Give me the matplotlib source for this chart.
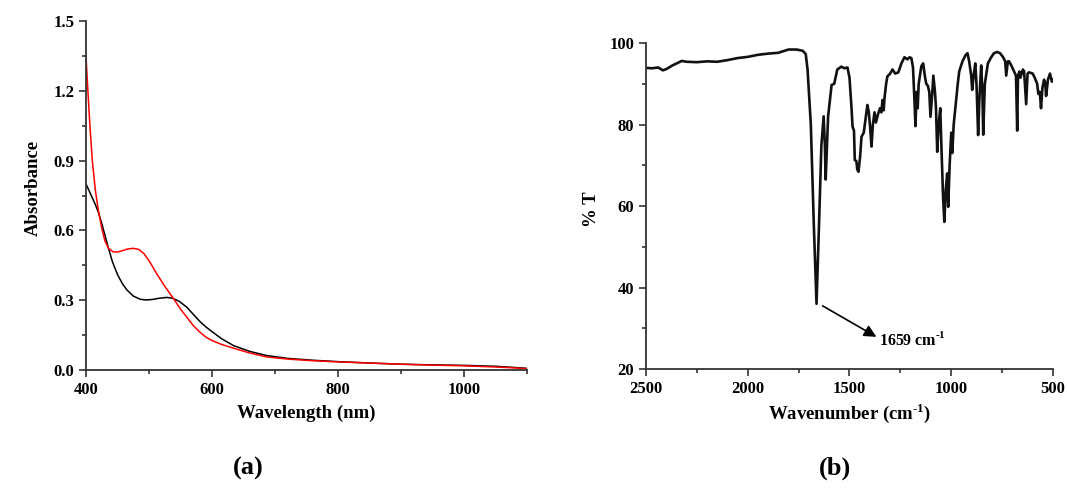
import matplotlib
matplotlib.use("Agg")
import matplotlib.pyplot as plt
from matplotlib.ticker import MultipleLocator

plt.rcParams['font.family'] = ['Liberation Serif', 'DejaVu Serif']
plt.rcParams['font.weight'] = 'bold'
plt.rcParams['mathtext.fontset'] = 'custom'
plt.rcParams['mathtext.rm'] = 'Liberation Serif:bold'
plt.rcParams['mathtext.bf'] = 'Liberation Serif:bold'

# ---- UV-Vis data (panel a) ----
red_nm = [400, 403, 406, 410, 415, 420, 425, 430, 436, 443, 450, 458, 466, 475, 484,
          492, 500, 512, 525, 538, 550, 560, 570, 581, 590, 600, 615, 634, 660, 687,
          720, 760, 800, 850, 900, 950, 1000, 1050, 1080, 1100]
red_abs = [1.35, 1.20, 1.06, 0.90, 0.77, 0.68, 0.61, 0.555, 0.522, 0.508, 0.507, 0.513,
           0.520, 0.523, 0.518, 0.500, 0.470, 0.415, 0.360, 0.310, 0.262, 0.227, 0.192,
           0.162, 0.142, 0.127, 0.110, 0.094, 0.073, 0.056, 0.047, 0.040, 0.035, 0.030,
           0.025, 0.021, 0.018, 0.013, 0.009, 0.006]
black_nm = [400, 405, 410, 415, 420, 425, 430, 435, 442, 450, 458, 465, 475, 486, 495,
            505, 515, 528, 538, 548, 560, 570, 581, 590, 600, 615, 634, 660, 687, 720,
            760, 800, 850, 900, 950, 1000, 1050, 1080, 1100]
black_abs = [0.80, 0.77, 0.74, 0.71, 0.675, 0.63, 0.58, 0.53, 0.465, 0.41, 0.37, 0.344,
             0.318, 0.304, 0.301, 0.303, 0.308, 0.312, 0.308, 0.295, 0.270, 0.240, 0.208,
             0.186, 0.165, 0.135, 0.105, 0.080, 0.062, 0.050, 0.042, 0.036, 0.030, 0.025,
             0.022, 0.020, 0.016, 0.011, 0.007]

# ---- FT-IR data (panel b) ----
ir_wn = [2500, 2470, 2440, 2417, 2400, 2370, 2324, 2300, 2250, 2200, 2150, 2100, 2050,
         2000, 1950, 1900, 1850, 1800, 1760, 1730, 1715, 1706, 1690, 1675, 1662, 1650,
         1638, 1627, 1621, 1617, 1605, 1588, 1575, 1560, 1540, 1525, 1510, 1500, 1490,
         1485, 1478, 1474, 1466, 1462, 1456, 1448, 1441, 1430, 1412, 1405, 1398, 1392,
         1385, 1377, 1370, 1360, 1350, 1343, 1338, 1332, 1328, 1320, 1314, 1300, 1289,
         1275, 1260, 1245, 1230, 1215, 1205, 1196, 1188, 1180, 1176, 1170, 1165, 1160,
         1147, 1138, 1130, 1123, 1115, 1108, 1102, 1093, 1088, 1080, 1075, 1069, 1062,
         1054, 1048, 1040, 1034, 1027, 1020, 1015, 1008, 1000, 995, 988, 976, 968, 961,
         945, 930, 920, 912, 902, 897, 890, 882, 876, 873, 868, 862, 853, 847, 843, 835,
         820, 804, 790, 775, 760, 745, 735, 730, 722, 716, 705, 691, 682, 676, 672, 665,
         660, 648, 642, 632, 625, 618, 600, 590, 578, 572, 565, 559, 552, 544, 538, 534,
         525, 515, 508, 505, 500]
ir_t = [93.9, 93.8, 94.0, 93.3, 93.6, 94.5, 95.6, 95.4, 95.3, 95.5, 95.4, 95.8, 96.3,
        96.6, 97.1, 97.4, 97.6, 98.4, 98.4, 98.1, 97.3, 93.5, 80.0, 55.0, 36.0, 55.0,
        75.0, 82.0, 75.0, 66.5, 82.0, 89.7, 90.0, 93.5, 94.2, 93.8, 94.0, 91.5, 84.0,
        79.5, 78.5, 71.3, 71.0, 69.0, 68.4, 72.0, 77.0, 78.0, 84.8, 83.0, 79.0, 74.6,
        80.0, 83.0, 80.5, 82.5, 84.0, 83.0, 86.0, 83.5, 86.5, 90.0, 91.8, 92.5, 93.5,
        92.5, 92.8, 95.0, 96.5, 96.0, 96.5, 96.3, 94.0, 85.0, 79.6, 88.0, 84.0, 90.0,
        94.3, 95.0, 92.0, 90.0, 89.5, 88.0, 81.9, 88.0, 92.0, 88.0, 84.0, 73.3, 80.0,
        84.0, 74.0, 62.0, 56.1, 64.0, 68.0, 59.8, 70.0, 78.0, 73.0, 80.0, 86.0, 90.0, 93.0,
        95.5, 97.0, 97.5, 95.5, 92.0, 88.5, 92.0, 95.0, 90.0, 85.0, 77.4, 86.0, 94.5, 88.0,
        77.5, 90.0, 95.0, 96.5, 97.5, 97.8, 97.5, 96.5, 95.5, 92.0, 95.5, 95.5, 94.5,
        93.0, 92.0, 78.5, 92.0, 93.0, 91.5, 93.5, 93.0, 85.0, 92.5, 92.8, 92.5, 91.5,
        90.0, 87.5, 88.0, 84.0, 89.0, 91.0, 90.0, 87.0, 91.0, 92.5, 91.0, 90.5, 91.0]

fig = plt.figure(figsize=(10.67, 4.95), dpi=100)
ax1 = fig.add_axes([0.0806, 0.2525, 0.4133, 0.7051])
ax2 = fig.add_axes([0.6054, 0.2545, 0.3815, 0.6586])

spine_col = '#333333'
for ax in (ax1, ax2):
    for s in ('top', 'right'):
        ax.spines[s].set_visible(False)
    for s in ('left', 'bottom'):
        ax.spines[s].set_color(spine_col)
        ax.spines[s].set_linewidth(1.3)
    ax.tick_params(which='major', direction='out', length=5, width=1.2,
                   labelsize=12, color=spine_col)
    ax.tick_params(which='minor', direction='out', length=3, width=1.2, color=spine_col)

# Panel (a)
ax1.plot(black_nm, black_abs, color='black', lw=1.1)
ax1.plot(red_nm, red_abs, color='red', lw=1.1)
ax1.set_xlim(400, 1100)
ax1.set_ylim(0, 1.5)
ax1.xaxis.set_minor_locator(MultipleLocator(100))
ax1.yaxis.set_minor_locator(MultipleLocator(0.15))
ax1.set_yticks([0.0, 0.3, 0.6, 0.9, 1.2, 1.5])
ax1.set_yticklabels(['0.0', '0.3', '0.6', '0.9', '1.2', '1.5'], fontweight='bold')
ax1.set_xticks([400, 600, 800, 1000])
ax1.set_xticklabels(['400', '600', '800', '1000'], fontweight='bold')

# Panel (b)
ax2.plot(ir_wn, ir_t, color='#111111', lw=1.9)
ax2.set_xlim(2500, 500)
ax2.set_ylim(20, 100)
ax2.set_xticks([2500, 2000, 1500, 1000, 500])
ax2.set_xticklabels(['2500', '2000', '1500', '1000', '500'], fontweight='bold')
ax2.xaxis.set_minor_locator(MultipleLocator(250))
ax2.set_yticks([20, 40, 60, 80, 100])
ax2.set_yticklabels(['20', '40', '60', '80', '100'], fontweight='bold')
ax2.yaxis.set_minor_locator(MultipleLocator(10))

ax2.annotate('', xy=(1368, 27.9), xytext=(1632, 35.5),
             arrowprops=dict(arrowstyle='-|>', color='black', lw=1.2,
                             mutation_scale=18, shrinkA=0, shrinkB=0))
ax2.text(1353, 27.2, r'1659 cm$^{\text{-1}}$', fontsize=11.5, fontweight='bold',
         ha='left', va='center')

# Axis labels
fig.text(0.031, 1 - 188 / 495, 'Absorbance', rotation=90, ha='center', va='center',
         fontsize=13.5, fontweight='bold')
fig.text(306 / 1067, 1 - 413 / 495, 'Wavelength (nm)', ha='center', va='center',
         fontsize=13.5, fontweight='bold')
fig.text(592 / 1067, 1 - 209 / 495, '% T', rotation=90, ha='center', va='center',
         fontsize=13.5, fontweight='bold')
fig.text(850 / 1067, 1 - 413 / 495, r'Wavenumber (cm$^{\text{-1}}$)', ha='center',
         va='center', fontsize=13.5, fontweight='bold')

fig.text(248 / 1067, 1 - 468 / 495, '(a)', ha='center', va='center',
         fontsize=19, fontweight='bold')
fig.text(835 / 1067, 1 - 468 / 495, '(b)', ha='center', va='center',
         fontsize=19, fontweight='bold')

fig.savefig('out.png', dpi=100)
